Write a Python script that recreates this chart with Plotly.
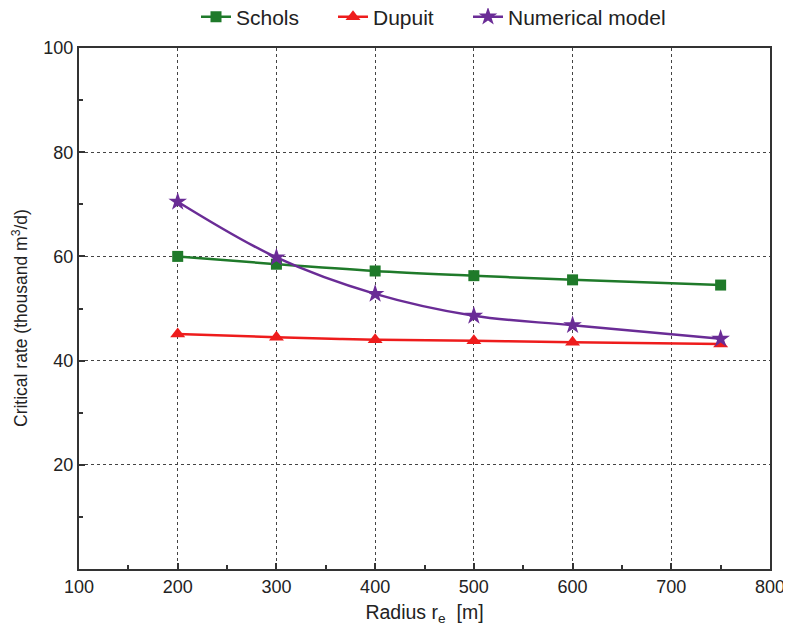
import plotly.graph_objects as go

radius = [200, 300, 400, 500, 600, 750]
schols = [60.0, 58.5, 57.2, 56.3, 55.5, 54.5]
dupuit = [45.1, 44.5, 44.0, 43.8, 43.5, 43.2]
numerical = [70.5, 59.8, 52.8, 48.6, 46.8, 44.2]

x_ticks = [100, 200, 300, 400, 500, 600, 700, 800]
y_ticks = [20, 40, 60, 80, 100]

FAM = "Liberation Sans, Arial, sans-serif"

# page has 8px body margin: offset compensated in size/margins
W, H = 783, 622
L, R, T, B = 71, 21, 40, 61
PW, PH = W - L - R, H - T - B

fig = go.Figure()
fig.add_trace(go.Scatter(x=radius, y=schols, name="Schols", mode="lines+markers", legend="legend",
                         line=dict(color="#1f7a2a", width=2.5, shape="spline"),
                         marker=dict(symbol="square", size=11, color="#1f7a2a")))
fig.add_trace(go.Scatter(x=radius, y=dupuit, name="Dupuit", mode="lines+markers", legend="legend2",
                         line=dict(color="#ee1c1c", width=2.5, shape="spline"),
                         marker=dict(symbol="triangle-up", size=13, color="#ee1c1c")))
fig.add_trace(go.Scatter(x=radius, y=numerical, name="Numerical model", mode="lines+markers", legend="legend3",
                         line=dict(color="#6a2c96", width=2.5, shape="spline"),
                         marker=dict(symbol="star", size=14, color="#6a2c96")))

def leg(screen_text_x):
    return dict(orientation="h", x=(screen_text_x - 8 - 40) / W, xanchor="left", xref="container",
                y=1 - 9 / H, yanchor="middle", yref="container",
                font=dict(size=21, family=FAM, color="#222"),
                bgcolor="rgba(0,0,0,0)")

# screen positions of axis titles (page pixels)
ytitle_cx, ytitle_cy = 20, 318

fig.update_layout(
    width=W, height=H,
    margin=dict(l=L, r=R, t=T, b=B, autoexpand=False),
    paper_bgcolor="white", plot_bgcolor="white",
    font=dict(family=FAM, size=18, color="#222"),
    showlegend=True,
    legend=leg(236),
    legend2=leg(373),
    legend3=leg(508),
    xaxis=dict(range=[100, 800], tickvals=x_ticks, ticktext=[str(v) for v in x_ticks],
               showline=True, linecolor="#333", linewidth=2, mirror=True,
               ticks="inside", ticklen=6, tickwidth=1.5, tickcolor="#333",
               minor=dict(dtick=50, ticks="inside", ticklen=4, tickcolor="#333", showgrid=False),
               showgrid=True, gridcolor="#444", griddash="dot", gridwidth=1,
               zeroline=False, automargin=False,
               title=dict(text="Radius r<sub>e</sub>  [m]", font=dict(size=19.5), standoff=10),
               tickfont=dict(size=18)),
    yaxis=dict(range=[0, 100], tickvals=y_ticks, ticktext=[str(v) for v in y_ticks],
               showline=True, linecolor="#333", linewidth=2, mirror=True,
               ticks="inside", ticklen=6, tickwidth=1.5, tickcolor="#333",
               minor=dict(dtick=10, ticks="inside", ticklen=4, tickcolor="#333", showgrid=False),
               showgrid=True, gridcolor="#444", griddash="dot", gridwidth=1,
               zeroline=False, automargin=False,
               tickfont=dict(size=18)),
    annotations=[dict(text="Critical rate (thousand m<sup>3</sup>/d)", textangle=-90,
                      xref="paper", yref="paper",
                      x=(ytitle_cx - 8 - L) / PW, y=(T + PH + 8 - ytitle_cy) / PH,
                      xanchor="center", yanchor="middle", showarrow=False,
                      font=dict(size=17.5, family=FAM, color="#222"))],
)

fig.write_html("out.html")
